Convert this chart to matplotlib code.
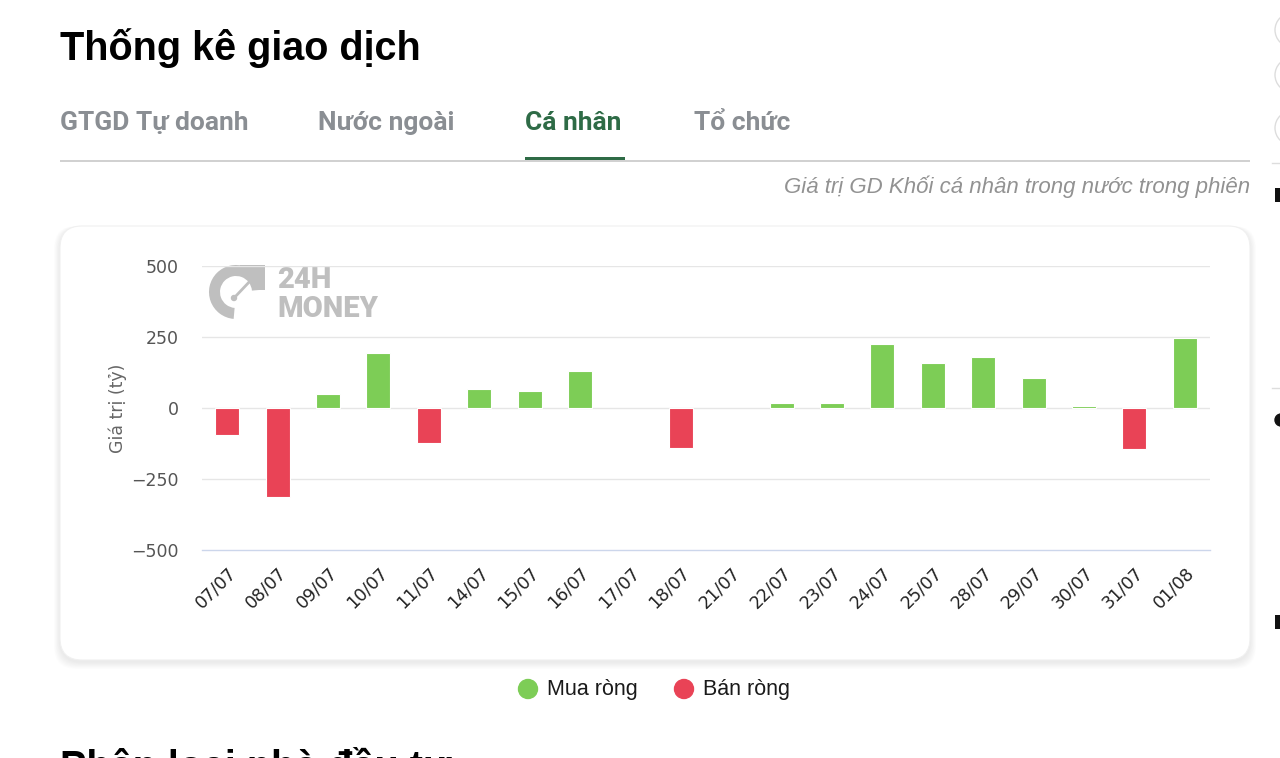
import matplotlib
matplotlib.use("Agg")
import matplotlib.pyplot as plt
from matplotlib.patches import FancyBboxPatch, Circle, Wedge, Rectangle
import numpy as np

# ---- data ----
dates = ["07/07", "08/07", "09/07", "10/07", "11/07", "14/07", "15/07", "16/07",
         "17/07", "18/07", "21/07", "22/07", "23/07", "24/07", "25/07", "28/07",
         "29/07", "30/07", "31/07", "01/08"]
values = [-95, -315, 49, 193, -122, 67, 61, 131,
          0, -140, 0, 18, 18, 225, 160, 181,
          106, 7, -146, 247]
y_ticks = [-500, -250, 0, 250, 500]
tabs = ["GTGD Tự doanh", "Nước ngoài", "Cá nhân", "Tổ chức"]
legend_labels = ["Mua ròng", "Bán ròng"]

GREEN = "#7dcd56"
RED = "#e94356"
W, H = 1280, 758

fig = plt.figure(figsize=(W / 100, H / 100), dpi=100)
fig.patch.set_facecolor("white")

# overlay axes in pixel coordinates
ov = fig.add_axes([0, 0, 1, 1])
ov.set_xlim(0, W)
ov.set_ylim(H, 0)
ov.axis("off")

# title
ov.text(60, 60, "Thống kê giao dịch", fontsize=28.5, fontweight="bold",
        family="Liberation Sans", color="#000000", va="baseline", ha="left")

# tabs
tab_x = [60, 318, 525, 694]
for i, (t, x) in enumerate(zip(tabs, tab_x)):
    ov.text(x, 130, t, fontsize=19, fontweight="bold", family="Roboto",
            color="#2e6b46" if i == 2 else "#8a8e93", va="baseline", ha="left")
ov.plot([60, 1250], [160.5, 160.5], color="#c8c8c8", lw=1.2, solid_capstyle="butt")
ov.add_patch(Rectangle((525, 157), 100, 3.2, color="#2e6b46", lw=0))

# subtitle
ov.text(1250, 193, "Giá trị GD Khối cá nhân trong nước trong phiên", fontsize=16,
        style="italic", family="Liberation Sans", color="#929292", va="baseline", ha="right")

# card with soft shadow
for k in range(10, 0, -1):
    ov.add_patch(FancyBboxPatch((60 - k * 0.6, 226 - k * 0.2 + 2), 1190 + k * 1.2, 434 + k * 0.9,
                                boxstyle="round,pad=0,rounding_size=22",
                                facecolor="#000000", alpha=0.006, lw=0))
ov.add_patch(FancyBboxPatch((60, 226), 1190, 434, boxstyle="round,pad=0,rounding_size=22",
                            facecolor="white", edgecolor="#f0f0f0", lw=0.8))

# watermark logo
LG = "#bfbfbf"
ov.add_patch(Wedge((236, 292), 27, 95, 355, width=11, facecolor=LG, lw=0))
ov.add_patch(Rectangle((240, 265), 25, 11, facecolor=LG, lw=0))
ov.add_patch(Rectangle((254, 265), 11, 25, facecolor=LG, lw=0))
ov.plot([234, 252], [298, 279], color=LG, lw=2)
ov.add_patch(Circle((234, 298), 2.5, color=LG))
ov.text(277, 288, "24H", fontsize=21, fontweight="heavy", family="Roboto",
        color=LG, va="baseline", ha="left")
ov.text(277, 317, "MONEY", fontsize=21, fontweight="heavy", family="Roboto",
        color=LG, va="baseline", ha="left")

# legend
ov.add_patch(Circle((528, 689), 9.5, color=GREEN))
ov.text(547, 690, legend_labels[0], fontsize=15.5, family="Liberation Sans", color="#1a1a1a",
        va="center", ha="left")
ov.add_patch(Circle((684, 689), 9.5, color=RED))
ov.text(703, 690, legend_labels[1], fontsize=15.5, family="Liberation Sans", color="#1a1a1a",
        va="center", ha="left")

# next heading (cut off by the page edge, as in the reference)
ov.text(60, 778, "Phân loại nhà đầu tư", fontsize=28.5, fontweight="bold",
        family="Liberation Sans", color="#000000", va="baseline", ha="left", clip_on=False)

# right-edge UI remnants
for cy in [30, 75, 128]:
    ov.add_patch(Circle((1292, cy), 17, facecolor="white", edgecolor="#dddddd", lw=1))
ov.plot([1272, 1280], [163, 163], color="#dddddd", lw=1)
ov.plot([1272, 1280], [388, 388], color="#dddddd", lw=1)
for cy in [195, 622]:
    ov.add_patch(Rectangle((1275, cy - 7), 6, 14, color="#111111", lw=0))
ov.add_patch(Circle((1281, 420), 6, color="#111111"))

# ---- chart axes ----
x0, x1, ytop, ybot = 202, 1210, 266, 550
ax = fig.add_axes([x0 / W, (H - ybot) / H, (x1 - x0) / W, (ybot - ytop) / H])
ax.set_facecolor("none")
ax.set_zorder(2)

x = np.arange(len(dates))
colors = [GREEN if v >= 0 else RED for v in values]
lws = [0.8 if v != 0 else 0 for v in values]
ax.bar(x, values, width=0.48, color=colors, edgecolor="white", linewidth=lws, zorder=3)

ax.set_xlim(-0.5, len(dates) - 0.5)
ax.set_ylim(-500, 500)
ax.set_yticks(y_ticks)
ax.set_yticklabels([str(v).replace("-", "\u2212") for v in y_ticks])
for v in y_ticks[1:]:
    ax.axhline(v, color="#e6e6e6", lw=1, zorder=1)
for s in ["top", "right", "left"]:
    ax.spines[s].set_visible(False)
ax.spines["bottom"].set_color("#ccd6eb")
ax.spines["bottom"].set_linewidth(1)
ax.tick_params(axis="y", length=0, pad=17, labelsize=12.5, labelcolor="#555555")
ax.tick_params(axis="x", length=0, pad=10, labelsize=12.5, labelcolor="#222222")
ax.set_xticks(x)
ax.set_xticklabels(dates, rotation=45, ha="right", rotation_mode="anchor")
for lab in ax.get_xticklabels():
    lab.set_family("DejaVu Sans")
ax.set_ylabel("Giá trị (tỷ)", fontsize=12.5, color="#666666", labelpad=3)

fig.savefig("out.png", dpi=100, facecolor="white")
